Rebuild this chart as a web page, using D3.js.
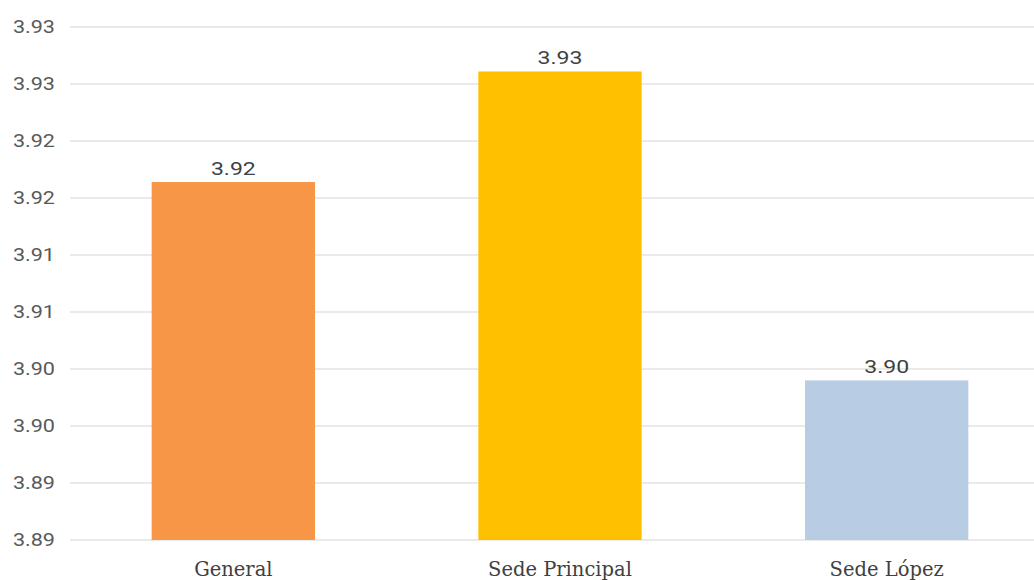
<!DOCTYPE html>
<html><head><meta charset="utf-8">
<script src="https://cdn.jsdelivr.net/npm/d3@7"></script>
<style>html,body{margin:0;padding:0;background:#fff;overflow:hidden}</style>
</head><body>
<svg id="c" width="1034" height="580"></svg>
<script>
const categories = ["General", "Sede Principal", "Sede López"];
const values = [3.9164, 3.9261, 3.8990];
const colors = ["#F79646", "#FFC000", "#B8CCE4"];
const tickValues = [3.885, 3.89, 3.895, 3.90, 3.905, 3.91, 3.915, 3.92, 3.925, 3.93];
const tickLabels = ["3.89", "3.89", "3.90", "3.90", "3.91", "3.91", "3.92", "3.92", "3.93", "3.93"];

const svg = d3.select("#c");
const y = d3.scaleLinear().domain([3.885, 3.93]).range([540, 27]);
const x = d3.scaleBand().domain(categories).range([70, 1050]).paddingInner(0.5).paddingOuter(0.25);

// grid
svg.append("g").selectAll("line").data(tickValues).join("line")
  .attr("x1", 70).attr("x2", 1034)
  .attr("y1", d => y(d)).attr("y2", d => y(d))
  .attr("stroke", "#e3e3e3").attr("stroke-width", 1.5);

// y axis labels
const yAxis = d3.axisLeft(y).tickValues(tickValues).tickSize(0).tickPadding(0)
  .tickFormat((d, i) => tickLabels[i]);
const ya = svg.append("g").attr("transform", "translate(55,0)").call(yAxis);
ya.select(".domain").remove();
ya.selectAll("text").attr("font-family", "Roboto, sans-serif").attr("font-size", 18)
  .attr("fill", "#595959").attr("x", 0).attr("transform", "scale(1.2,1)");

// bars
svg.append("g").selectAll("rect").data(categories).join("rect")
  .attr("x", d => x(d)).attr("width", x.bandwidth())
  .attr("y", (d, i) => y(values[i])).attr("height", (d, i) => y(3.885) - y(values[i]))
  .attr("fill", (d, i) => colors[i]);

// value labels
svg.append("g").selectAll("g").data(categories).join("g")
  .attr("transform", (d, i) => `translate(${x(d) + x.bandwidth() / 2},${y(values[i]) - 7})`)
  .append("text")
  .attr("text-anchor", "middle").attr("transform", "scale(1.28,1)")
  .attr("font-family", "Roboto, sans-serif").attr("font-size", 18).attr("fill", "#404040")
  .text((d, i) => values[i].toFixed(2));

// x axis labels
const xAxis = d3.axisBottom(x).tickSize(0).tickPadding(0);
const xa = svg.append("g").attr("transform", "translate(0,576)").call(xAxis);
xa.select(".domain").remove();
xa.selectAll("text").attr("font-family", "'DejaVu Serif', serif").attr("font-size", 19.5)
  .attr("fill", "#404040").attr("dy", "0");
</script>
</body></html>
